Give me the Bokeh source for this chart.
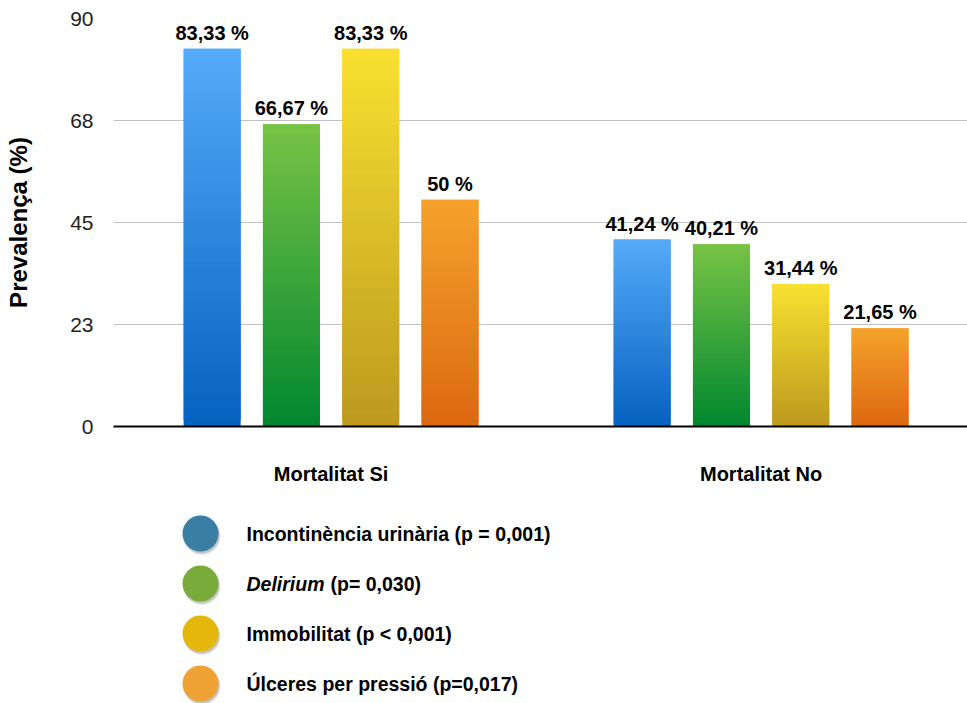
from bokeh.plotting import figure
from bokeh.layouts import column
from bokeh.models import Range1d, FixedTicker, ColumnDataSource
from bokeh.core.properties import value
from bokeh.embed import file_html
from bokeh.resources import INLINE

# --- data -------------------------------------------------------------
groups = ["Mortalitat Si", "Mortalitat No"]
incontinencia = [83.33, 41.24]
delirium = [66.67, 40.21]
immobilitat = [83.33, 31.44]
ulceres = [50.0, 21.65]
series_values = [incontinencia, delirium, immobilitat, ulceres]

y_ticks = [0, 22.5, 45, 67.5, 90]
y_tick_labels = ["0", "23", "45", "68", "90"]

legend_names = ["Incontinència urinària", "Delirium", "Immobilitat", "Úlceres per pressió"]
legend_pvalues = ["(p = 0,001)", "(p= 0,030)", "(p < 0,001)", "(p=0,017)"]

# --- styling ----------------------------------------------------------
FONT = value("Liberation Sans")
grad_top = ["#56aaf9", "#78c346", "#f9e030", "#f4a22c"]
grad_bottom = ["#0561c0", "#00872f", "#bd991f", "#dd6810"]
legend_colors = ["#3b7ea3", "#79ab3b", "#e3b70c", "#eda233"]

group_centers = [0.5, 1.5]
offsets = [-0.2766, -0.0922, 0.0922, 0.2766]
bar_w = 0.1326
N_SLICES = 60

FRAME_LEFT = 113
PAGE_W = 967


def hex_to_rgb(h):
    h = h.lstrip("#")
    return tuple(int(h[i:i + 2], 16) for i in (0, 2, 4))


def mix(c1, c2, t):
    a, b = hex_to_rgb(c1), hex_to_rgb(c2)
    return "#%02x%02x%02x" % tuple(round(a[k] + (b[k] - a[k]) * t) for k in range(3))


def fmt(v):
    s = f"{v:.2f}".rstrip("0").rstrip(".")
    return s.replace(".", ",") + " %"


# --- main chart -------------------------------------------------------
p = figure(width=PAGE_W, height=490, x_range=Range1d(-0.006, 1.98), y_range=Range1d(0, 90),
           output_backend="svg", toolbar_location=None,
           min_border_left=FRAME_LEFT, min_border_right=0, min_border_top=18, min_border_bottom=64)
p.outline_line_color = None
p.background_fill_color = "white"
p.border_fill_color = "white"
p.xgrid.visible = False
p.ygrid.grid_line_color = "#c2c2c2"
p.ygrid.grid_line_width = 1

# vertical gradient bars: overlapping slices of each bar's own height,
# drawn bottom to top so no seams show between them
q = dict(left=[], right=[], bottom=[], top=[], color=[])
lab = dict(x=[], y=[], text=[])
for s, vals in enumerate(series_values):
    for g, v in enumerate(vals):
        xc = group_centers[g] + offsets[s]
        for k in range(N_SLICES):
            b = v * k / N_SLICES
            t = min(v, v * (k + 2) / N_SLICES)
            q["left"].append(xc - bar_w / 2)
            q["right"].append(xc + bar_w / 2)
            q["bottom"].append(b)
            q["top"].append(t)
            q["color"].append(mix(grad_bottom[s], grad_top[s], (k + 0.5) / N_SLICES))
        lab["x"].append(xc)
        lab["y"].append(v)
        lab["text"].append(fmt(v))

p.quad(left="left", right="right", bottom="bottom", top="top", source=ColumnDataSource(q),
       fill_color="color", line_color=None)

p.text(x="x", y="y", text="text", source=ColumnDataSource(lab),
       text_font=FONT, text_font_style="bold", text_font_size="20px",
       text_align="center", text_baseline="alphabetic", y_offset=-16, text_color="black")

# axes
p.yaxis.ticker = FixedTicker(ticks=y_ticks)
p.yaxis.major_label_overrides = dict(zip(y_ticks, y_tick_labels))
p.yaxis.axis_line_color = None
p.yaxis.major_tick_line_color = None
p.yaxis.minor_tick_line_color = None
p.yaxis.major_tick_out = 0
p.yaxis.major_label_standoff = 20
p.yaxis.major_label_text_font = "Liberation Sans"
p.yaxis.major_label_text_font_size = "21px"
p.yaxis.major_label_text_color = "#222222"
p.yaxis.axis_label = "Prevalença (%)"
p.yaxis.axis_label_text_font = "Liberation Sans"
p.yaxis.axis_label_text_font_style = "bold"
p.yaxis.axis_label_text_font_size = "24px"
p.yaxis.axis_label_text_color = "black"
p.yaxis.axis_label_standoff = 35

p.xaxis.ticker = FixedTicker(ticks=group_centers)
p.xaxis.major_label_overrides = dict(zip(group_centers, groups))
p.xaxis.axis_line_color = "black"
p.xaxis.axis_line_width = 2
p.xaxis.major_tick_line_color = None
p.xaxis.minor_tick_line_color = None
p.xaxis.major_tick_out = 0
p.xaxis.major_label_standoff = 36
p.xaxis.major_label_text_font = "Liberation Sans"
p.xaxis.major_label_text_font_style = "bold"
p.xaxis.major_label_text_font_size = "20px"
p.xaxis.major_label_text_color = "black"

# --- legend panel (frame shares the chart's left edge in the column) ---
lf = figure(width=PAGE_W, height=213, x_range=Range1d(FRAME_LEFT, PAGE_W), y_range=Range1d(703, 490),
            output_backend="svg", toolbar_location=None,
            x_axis_type=None, y_axis_type=None,
            min_border_left=FRAME_LEFT, min_border_right=0, min_border_top=0, min_border_bottom=0)
lf.outline_line_color = None
lf.xgrid.visible = False
lf.ygrid.visible = False

ly = [533 + 50 * i for i in range(len(legend_names))]
lx = [200] * len(legend_names)

lf.circle(x=[x + 1.5 for x in lx], y=[y + 3 for y in ly], radius=18.5,
          fill_color="black", fill_alpha=0.10, line_color=None)
lf.circle(x=[x + 1 for x in lx], y=[y + 2 for y in ly], radius=18,
          fill_color="black", fill_alpha=0.15, line_color=None)
lf.circle(x=lx, y=ly, radius=18, fill_color=legend_colors, line_color=None)

plain_rows = [0, 2, 3]
lf.text(x=[246] * len(plain_rows), y=[ly[i] for i in plain_rows],
        text=[legend_names[i] + " " + legend_pvalues[i] for i in plain_rows],
        text_font=FONT, text_font_style="bold", text_font_size="19.5px",
        text_baseline="middle", text_color="black")
lf.text(x=[246], y=[ly[1]], text=[legend_names[1]],
        text_font=FONT, text_font_style="bold italic", text_font_size="19.5px",
        text_baseline="middle", text_color="black")
lf.text(x=[330], y=[ly[1]], text=[legend_pvalues[1]],
        text_font=FONT, text_font_style="bold", text_font_size="19.5px",
        text_baseline="middle", text_color="black")

layout = column(p, lf, spacing=0)
open("out.html", "w").write(file_html(layout, INLINE))
